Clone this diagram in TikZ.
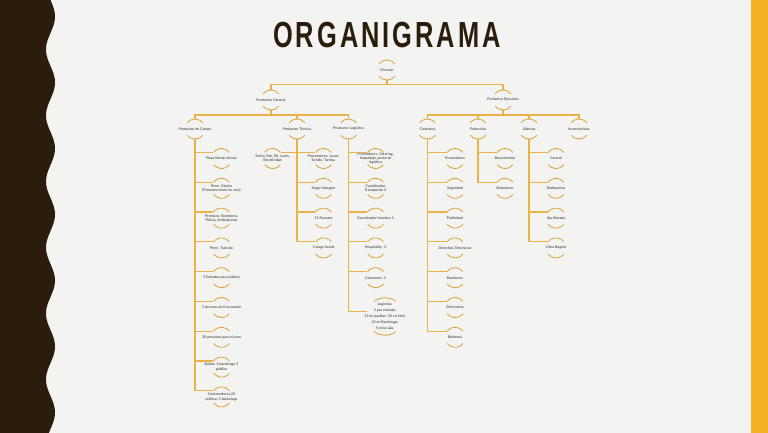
\documentclass[tikz,border=0pt]{standalone}
\usepackage{fontspec}
\setmainfont{Lato}
\newfontfamily\titlefont{Liberation Sans}
\definecolor{bgc}{RGB}{243,243,241}
\definecolor{brownc}{RGB}{42,29,12}
\definecolor{yelc}{RGB}{245,178,39}
\definecolor{goldc}{RGB}{236,178,74}
\definecolor{arcc}{RGB}{220,165,66}
\definecolor{txtc}{RGB}{45,45,45}
\newcommand{\tk}{\kern4.3pt}
\begin{document}
\begin{tikzpicture}[x=1pt,y=-1pt,
  org/.style={circle,minimum size=20pt,inner sep=0pt,draw=none},
  bigorg/.style={circle,minimum size=37.4pt,inner sep=0pt,draw=none},
  lbl/.style={font=\fontsize{3.6}{4.3}\selectfont,text=txtc,align=center,inner sep=0pt},
  biglbl/.style={font=\fontsize{3.6}{6}\selectfont,text=txtc,align=center,inner sep=0pt},
  conn/.style={draw=goldc,line width=1.15pt},
  arcst/.style={draw=arcc,line width=0.85pt}]
\path[use as bounding box,fill=bgc] (0,0) rectangle (768,433);
\fill[brownc] (0,0) -- plot[domain=0:433,samples=160,variable=\t] ({50.5+4.5*sin(5.4545*\t)},\t) -- (0,433) -- cycle;
\fill[yelc] (751,0) rectangle (768,433);
\node[anchor=base,inner sep=0pt,text=brownc] (title) at (387,48)
  {\scalebox{0.70}[1]{\fontsize{36.3}{40}\titlefont\bfseries O\tk R\tk G\tk A\tk N\tk I\tk G\tk R\tk A\tk M\tk A}};
% level 1-3
\node[org,label={[lbl]center:Director}] (dir) at (387,70) {};
\node[org,label={[lbl]center:Productor General}] (pg) at (271,100) {};
\node[org,label={[lbl]center:Productor Ejecutivo}] (pe) at (503,100) {};
\node[org,label={[lbl]center:Productor de Campo}] (camp) at (195,129) {};
\node[org,label={[lbl]center:Productor Técnico}] (tec) at (297,129) {};
\node[org,label={[lbl]center:Productor Logístico}] (log) at (348.5,129) {};
\node[org,label={[lbl]center:Contratos}] (con) at (427.5,129) {};
\node[org,label={[lbl]center:Patrocinio}] (pat) at (478,129) {};
\node[org,label={[lbl]center:Alianzas}] (ali) at (529,129) {};
\node[org,label={[lbl]center:Inversionistas}] (inv) at (579,129) {};
% campo
\node[org,label={[lbl]center:Plaza Mesías Armas}] (c1) at (221.5,158.5) {};
\node[org,label={[lbl]center:{Perm. Diseño\\(Presentaciones en vivo)}}] (c2) at (221.5,188.3) {};
\node[org,label={[lbl]center:{Permisos: Bomberos,\\Policía, Ambulancias}}] (c3) at (221.5,218.1) {};
\node[org,label={[lbl]center:Perm. Tránsito}] (c4) at (221.5,247.9) {};
\node[org,label={[lbl]center:3 Entradas para público}] (c5) at (221.5,277.7) {};
\node[org,label={[lbl]center:3 Accesos de Evacuación}] (c6) at (221.5,307.5) {};
\node[org,label={[lbl]center:30 personas para el aseo}] (c7) at (221.5,337.3) {};
\node[org,label={[lbl]center:{Baños: 4 backstage 3\\público}}] (c8) at (221.5,367.1) {};
\node[org,label={[lbl]center:{Contenedores 20\\público, 3 backstage}}] (c9) at (221.5,396.9) {};
% tecnico
\node[org,label={[lbl]center:{Techo, Pah, PA, Luces,\\Electricidad}}] (tl) at (272.5,158.5) {};
\node[org,label={[lbl]center:{Proveedores: Luces,\\Sonido, Tarima.}}] (t1) at (323.5,158.5) {};
\node[org,label={[lbl]center:Stage Manager}] (t2) at (323.5,188.3) {};
\node[org,label={[lbl]center:15 Runners}] (t3) at (323.5,218.1) {};
\node[org,label={[lbl]center:3 stage hands}] (t4) at (323.5,247.9) {};
% logistico
\node[org,label={[lbl]center:{Proveedores: Catering,\\hospedaje, personal\\logística}}] (l1) at (375.5,158.5) {};
\node[org,label={[lbl]center:{Coordinador\\Transportes 3}}] (l2) at (375.5,188.3) {};
\node[org,label={[lbl]center:Coordinador hotelero 1}] (l3) at (375.5,218.1) {};
\node[org,label={[lbl]center:Hospitality: 3}] (l4) at (375.5,247.9) {};
\node[org,label={[lbl]center:Camerinos: 1}] (l5) at (375.5,277.7) {};
\node[bigorg,label={[biglbl]center:{Logística:\\5 por entrada;\\15 en pasillos; 30 en field;\\10 en Backstage;\\5 en la sala.}}] (lb) at (385,316.5) {};
% contratos
\node[org,label={[lbl]center:Proveedores}] (k1) at (455,158.5) {};
\node[org,label={[lbl]center:Seguridad}] (k2) at (455,188.3) {};
\node[org,label={[lbl]center:Publicidad}] (k3) at (455,218.1) {};
\node[org,label={[lbl]center:Derechos Televisivos}] (k4) at (455,247.9) {};
\node[org,label={[lbl]center:Bomberos}] (k5) at (455,277.7) {};
\node[org,label={[lbl]center:Enfermería}] (k6) at (455,307.5) {};
\node[org,label={[lbl]center:Boletería}] (k7) at (455,337.3) {};
% patrocinio
\node[org,label={[lbl]center:Bancolombia}] (p1) at (505,158.5) {};
\node[org,label={[lbl]center:Budweiser}] (p2) at (505,188.3) {};
% alianzas
\node[org,label={[lbl]center:Caracol}] (a1) at (556,158.5) {};
\node[org,label={[lbl]center:Radioactiva}] (a2) at (556,188.3) {};
\node[org,label={[lbl]center:Isla Morada}] (a3) at (556,218.1) {};
\node[org,label={[lbl]center:Vibra Bogotá}] (a4) at (556,247.9) {};
% connectors
\coordinate (j1) at (387,84.3);
\coordinate (j2) at (271,115);
\coordinate (j3) at (503,115);
\draw[conn] (dir.south) -- (j1) -| (pg.north);
\draw[conn] (j1) -| (pe.north);
\draw[conn] (pg.south) -- (j2);
\draw[conn] (pe.south) -- (j3);
\foreach \n in {camp,tec,log} \draw[conn] (j2) -| (\n.north);
\foreach \n in {con,pat,ali,inv} \draw[conn] (j3) -| (\n.north);
\foreach \n in {c1,c2,c3,c4,c5,c6,c7,c8,c9} \draw[conn] (camp.south) |- (\n.143);
\draw[conn] (tec.south) |- (tl.37);
\foreach \n in {t1,t2,t3,t4} \draw[conn] (tec.south) |- (\n.143);
\foreach \n in {l1,l2,l3,l4,l5} \draw[conn] (log.south) |- (\n.143);
\draw[conn] (log.south) |- (lb.165);
\foreach \n in {k1,k2,k3,k4,k5,k6,k7} \draw[conn] (con.south) |- (\n.143);
\foreach \n in {p1,p2} \draw[conn] (pat.south) |- (\n.143);
\foreach \n in {a1,a2,a3,a4} \draw[conn] (ali.south) |- (\n.143);
% arcs
\foreach \n in {dir,pg,pe,camp,tec,log,con,pat,ali,inv,c1,c2,c3,c4,c5,c6,c7,c8,c9,tl,t1,t2,t3,t4,l1,l2,l3,l4,l5,k1,k2,k3,k4,k5,k6,k7,p1,p2,a1,a2,a3,a4}{
  \draw[arcst] ([shift={(38:10)}]\n.center) arc[start angle=38,end angle=142,radius=10];
  \draw[arcst] ([shift={(218:10)}]\n.center) arc[start angle=218,end angle=322,radius=10];
}
\draw[arcst] ([shift={(54:18.7)}]lb.center) arc[start angle=54,end angle=126,radius=18.7];
\draw[arcst] ([shift={(234:18.7)}]lb.center) arc[start angle=234,end angle=306,radius=18.7];
\end{tikzpicture}
\end{document}
